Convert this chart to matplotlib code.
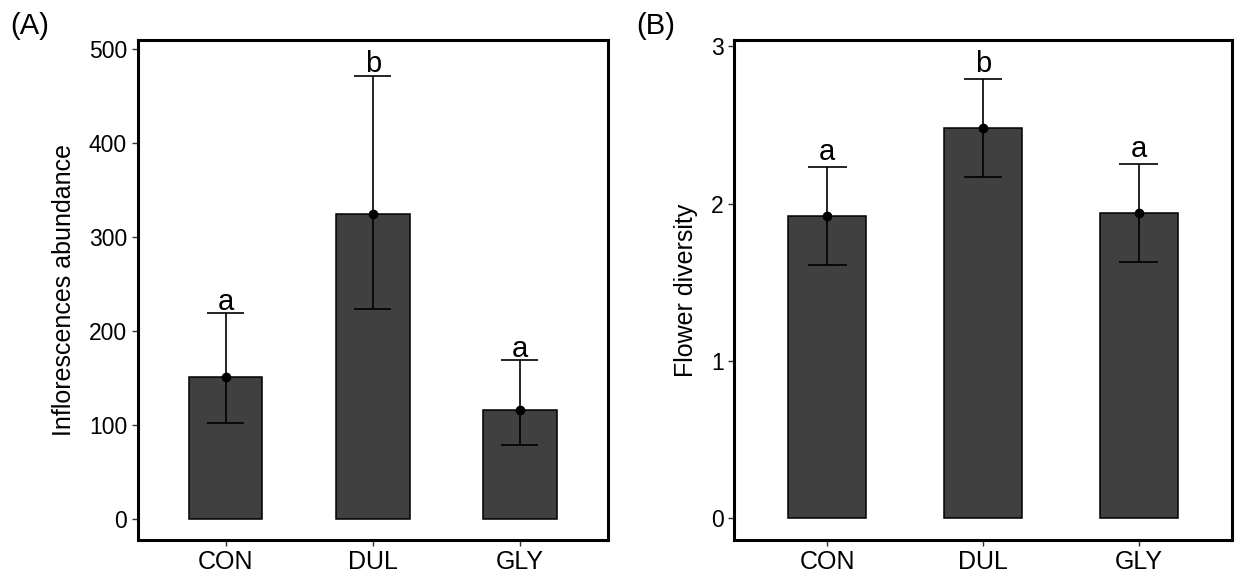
import matplotlib
matplotlib.use('Agg')
import matplotlib.pyplot as plt

# treatments
groups = ['CON', 'DUL', 'GLY']

# (A) inflorescences abundance: mean and error bar limits
abund_mean = [151, 325, 116]
abund_low = [103, 224, 79]
abund_high = [219, 472, 169]
abund_letters = ['a', 'b', 'a']

# (B) flower diversity
div_mean = [1.92, 2.48, 1.94]
div_low = [1.61, 2.17, 1.63]
div_high = [2.23, 2.79, 2.25]
div_letters = ['a', 'b', 'a']

plt.rcParams['font.family'] = ['Liberation Sans', 'DejaVu Sans']

fig = plt.figure(figsize=(12.36, 5.77), dpi=100)
axA = fig.add_axes([137.5 / 1236, 1 - 540 / 577, 470.5 / 1236, 500 / 577])
axB = fig.add_axes([734 / 1236, 1 - 540 / 577, 498 / 1236, 500 / 577])


def draw_panel(ax, mean, low, high, letters, ylim, yticks, ylabel, text_off):
    x = list(range(1, len(groups) + 1))
    ax.bar(x, mean, width=0.5, color='#404040', edgecolor='black',
           linewidth=1.1, zorder=2)
    # error bars with caps
    ax.vlines(x, low, high, color='black', lw=1.2, zorder=3)
    left = [xi - 0.125 for xi in x]
    right = [xi + 0.125 for xi in x]
    ax.hlines(low, left, right, color='black', lw=1.2, zorder=3)
    ax.hlines(high, left, right, color='black', lw=1.2, zorder=3)
    ax.plot(x, mean, 'o', color='black', ms=6, zorder=4)
    for xi, hi, lab in zip(x, high, letters):
        ax.annotate(lab, (xi, hi), xytext=(0, text_off), textcoords='offset points',
                    ha='center', va='baseline', fontsize=21)
    ax.set_xlim(0.4, 3.6)
    ax.set_ylim(*ylim)
    ax.set_xticks(x)
    ax.set_xticklabels(groups, fontsize=18)
    ax.set_yticks(yticks)
    ax.tick_params(axis='y', labelsize=16.5, length=4.5, width=1, pad=3, color='#333333')
    ax.tick_params(axis='x', length=4.5, width=1, pad=2.5, color='#333333')
    ax.set_ylabel(ylabel, fontsize=18, labelpad=9)
    for sp in ax.spines.values():
        sp.set_linewidth(2.2)


draw_panel(axA, abund_mean, abund_low, abund_high, abund_letters,
           (-22, 510), [0, 100, 200, 300, 400, 500], 'Inflorescences abundance', 2.8)
draw_panel(axB, div_mean, div_low, div_high, div_letters,
           (-0.14, 3.04), [0, 1, 2, 3], 'Flower diversity', 5)

fig.text(10 / 1236, 1 - 12 / 577, '(A)', fontsize=21, va='top', ha='left')
fig.text(636 / 1236, 1 - 12 / 577, '(B)', fontsize=21, va='top', ha='left')

fig.savefig('out.png', dpi=100)
